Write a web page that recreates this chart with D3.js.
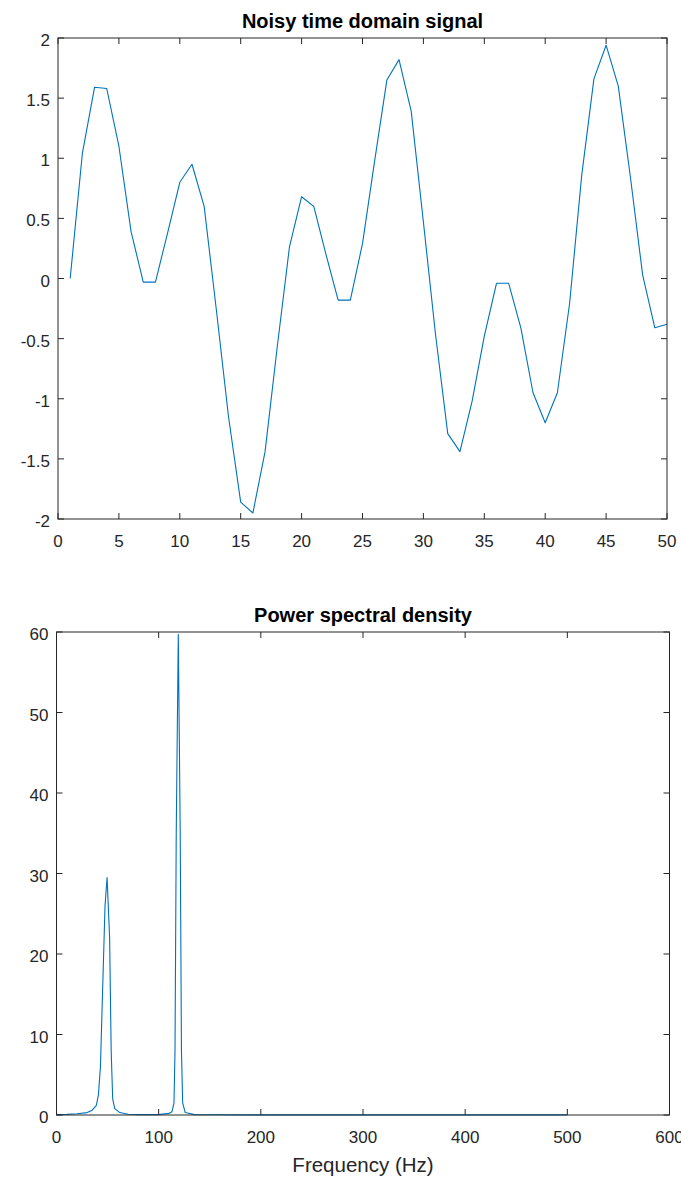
<!DOCTYPE html>
<html>
<head>
<meta charset="utf-8">
<script src="https://cdn.jsdelivr.net/npm/d3@7"></script>
<style>
    body { margin: 0; background: #fff; }
    text { font-family: Helvetica, Arial, "Liberation Sans", sans-serif; fill: #262626; }
</style>
</head>
<body>
<svg id="fig" width="681" height="1181"></svg>
<script>
// time domain samples (index 1..50)
let sampleIdx = d3.range(1, 51);
let signalVals = [0.00, 1.04, 1.59, 1.58, 1.10, 0.39, -0.03, -0.03, 0.38, 0.80,
    0.95, 0.60, -0.26, -1.15, -1.86, -1.95, -1.44, -0.57, 0.26, 0.68,
    0.60, 0.20, -0.18, -0.18, 0.29, 0.98, 1.65, 1.82, 1.39, 0.47,
    -0.47, -1.29, -1.44, -1.02, -0.48, -0.04, -0.04, -0.41, -0.95, -1.20,
    -0.95, -0.21, 0.86, 1.66, 1.94, 1.60, 0.84, 0.03, -0.41, -0.38];

// power spectrum
let psdFreq = [0, 10, 20, 30, 35, 39, 41, 43, 47.5, 49.5, 52, 53.5, 55, 57, 62, 70, 80,
    100, 110, 113, 115, 116, 117.2, 119.2, 121.1, 122.3, 123.5, 126, 135, 150, 200, 300, 400, 500];
let psdVals = [0.05, 0.08, 0.15, 0.3, 0.6, 1.2, 2.5, 6, 26, 29.5, 22, 8, 2, 0.8, 0.3, 0.1, 0.05,
    0.05, 0.2, 0.4, 1.5, 8, 35, 59.7, 35, 8, 1.5, 0.3, 0.05, 0.03, 0.02, 0.02, 0.02, 0.02];

let xTicksTop = d3.range(0, 51, 5);
let yTicksTop = [-2, -1.5, -1, -0.5, 0, 0.5, 1, 1.5, 2];
let xTicksBot = [0, 100, 200, 300, 400, 500, 600];
let yTicksBot = [0, 10, 20, 30, 40, 50, 60];

let lineColor = "#0072BD",
    axisColor = "#262626",
    tickLen = 6;

let svg = d3.select("#fig");

const drawPanel = (box, xDom, yDom, xTicks, yTicks, xs, ys, title, xLabel) => {
    let x = d3.scaleLinear().domain(xDom).range([box.left, box.right]);
    let y = d3.scaleLinear().domain(yDom).range([box.bottom, box.top]);
    let g = svg.append("g");

    // data line first, box drawn over it
    let line = d3.line()
        .x((d, i) => x(xs[i]))
        .y(d => y(d));
    g.append("path")
        .datum(ys)
        .attr("d", line)
        .attr("fill", "none")
        .attr("stroke", lineColor)
        .attr("stroke-width", 1.1)
        .attr("stroke-linejoin", "round");

    // ticks on all four sides, pointing in
    g.selectAll(".xt").data(xTicks).enter().append("path")
        .attr("d", d => "M" + x(d) + "," + box.bottom + "v" + (-tickLen) +
            "M" + x(d) + "," + box.top + "v" + tickLen)
        .attr("stroke", axisColor).attr("stroke-width", 1);
    g.selectAll(".yt").data(yTicks).enter().append("path")
        .attr("d", d => "M" + box.left + "," + y(d) + "h" + tickLen +
            "M" + box.right + "," + y(d) + "h" + (-tickLen))
        .attr("stroke", axisColor).attr("stroke-width", 1);

    g.append("rect")
        .attr("x", box.left).attr("y", box.top)
        .attr("width", box.right - box.left)
        .attr("height", box.bottom - box.top)
        .attr("fill", "none")
        .attr("stroke", axisColor)
        .attr("stroke-width", 1);

    // labels
    g.selectAll(".xl").data(xTicks).enter().append("text")
        .attr("x", d => x(d))
        .attr("y", box.bottom + 28)
        .attr("text-anchor", "middle")
        .style("font-size", "17px")
        .text(d => String(d));
    g.selectAll(".yl").data(yTicks).enter().append("text")
        .attr("x", box.left - 8)
        .attr("y", d => y(d) + 8)
        .attr("text-anchor", "end")
        .style("font-size", "17px")
        .text(d => String(d));

    g.append("text")
        .attr("x", (box.left + box.right) / 2)
        .attr("y", box.top - 10)
        .attr("text-anchor", "middle")
        .style("font-size", "20px")
        .style("font-weight", "bold")
        .style("fill", "#000")
        .text(title);

    if (xLabel) {
        g.append("text")
            .attr("x", (box.left + box.right) / 2)
            .attr("y", box.bottom + 57)
            .attr("text-anchor", "middle")
            .style("font-size", "20.5px")
            .text(xLabel);
    }
};

drawPanel({left: 58, right: 667, top: 38, bottom: 519}, [0, 50], [-2, 2],
    xTicksTop, yTicksTop, sampleIdx, signalVals, "Noisy time domain signal", null);

drawPanel({left: 56.5, right: 669.5, top: 632, bottom: 1115}, [0, 600], [0, 60],
    xTicksBot, yTicksBot, psdFreq, psdVals, "Power spectral density", "Frequency (Hz)");
</script>
</body>
</html>
